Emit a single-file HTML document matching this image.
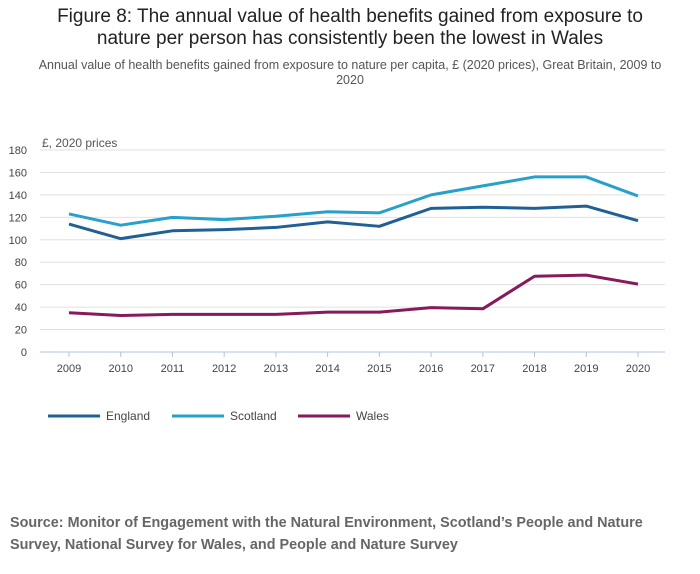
<!DOCTYPE html>
<html><head><meta charset="utf-8"><style>
body{margin:0;width:700px;height:574px;background:#fff;font-family:"Liberation Sans",sans-serif;overflow:hidden;position:relative}
.t{position:absolute;left:0;width:700px;text-align:center;color:#222}
</style></head><body>
<div class="t" style="top:6px;font-size:19px;line-height:22px;left:0">Figure 8: The annual value of health benefits gained from exposure to<br>nature per person has consistently been the lowest in Wales</div>
<div class="t" style="top:58px;font-size:12.5px;line-height:15px;color:#555;left:0">Annual value of health benefits gained from exposure to nature per capita, £ (2020 prices), Great Britain, 2009 to<br>2020</div>
<svg id="c" width="700" height="574" style="position:absolute;left:0;top:0"></svg>
<div style="position:absolute;left:10px;top:512px;font-size:14.4px;line-height:22px;font-weight:bold;color:#666">Source: Monitor of Engagement with the Natural Environment, Scotland’s People and Nature<br>Survey, National Survey for Wales, and People and Nature Survey</div>
<script>
const years=[2009,2010,2011,2012,2013,2014,2015,2016,2017,2018,2019,2020];
const england=[114,101,108,109,111,116,112,128,129,128,130,117];
const scotland=[123,113,120,118,121,125,124,140,148,156,156,139];
const wales=[35,32.5,33.5,33.5,33.5,35.5,35.5,39.5,38.5,67.5,68.5,60.5];
const yTicks=[0,20,40,60,80,100,120,140,160,180];
const seriesNames=["England","Scotland","Wales"];
const colors=["#206095","#27a0cc","#871a5b"];
const svg=document.getElementById('c');const NS='http://www.w3.org/2000/svg';
const x=i=>69+i*(638-69)/(years.length-1);
const y=v=>352-v*(352-150)/180;
function mk(t,a,p){const e=document.createElementNS(NS,t);for(const k in a)e.setAttribute(k,a[k]);(p||svg).appendChild(e);return e;}
yTicks.forEach(v=>{
 const l=mk('line',{x1:40,x2:665,y1:y(v),y2:y(v),stroke:v===0?'#b0c4de':'#e0e0e0','stroke-width':1});
 
 
 const t=mk('text',{x:27,y:y(v)+4,'text-anchor':'end','font-size':11,fill:'#444','font-family':'Liberation Sans'});
 t.textContent=v;
 
 
});
const u=mk('text',{x:42,y:147,'font-size':12,fill:'#555','font-family':'Liberation Sans'});u.textContent='£, 2020 prices';


years.forEach((yr,i)=>{
 mk('line',{x1:x(i),x2:x(i),y1:352,y2:357,stroke:'#b0c4de'});
 const t=mk('text',{x:x(i),y:372,'text-anchor':'middle','font-size':11,fill:'#444','font-family':'Liberation Sans'});
 t.textContent=yr;
 
 
});
[england,scotland,wales].forEach((d,s)=>{
 const p=mk('polyline',{points:d.map((v,i)=>x(i)+','+y(v)).join(' '),fill:'none',stroke:colors[s],'stroke-width':3,'stroke-linejoin':'round'});
 
 
});
const lx=[48,172,298];
seriesNames.forEach((n,s)=>{
 const g=mk('g',{});
 
 
 mk('line',{x1:lx[s],x2:lx[s]+52,y1:416,y2:416,stroke:colors[s],'stroke-width':3},g);
 const t=mk('text',{x:lx[s]+58,y:420,'font-size':12,fill:'#444','font-family':'Liberation Sans'},g);t.textContent=n;
});
</script>
</body></html>
